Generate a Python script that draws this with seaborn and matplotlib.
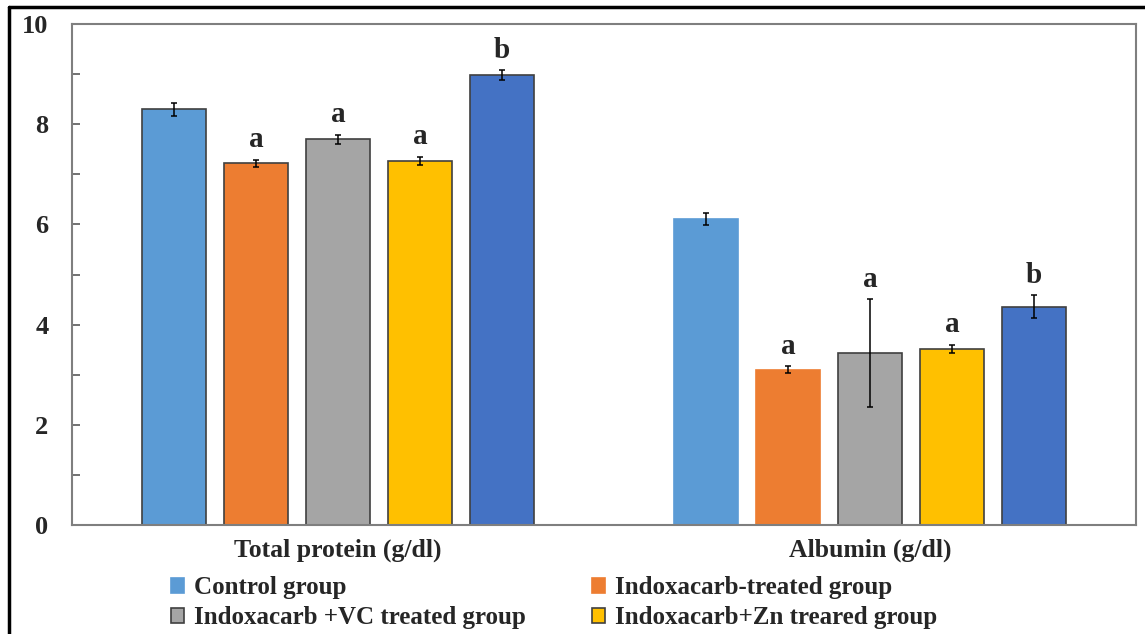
import matplotlib
matplotlib.use('Agg')
import matplotlib.pyplot as plt
from matplotlib.patches import Patch
from matplotlib.lines import Line2D
from matplotlib.ticker import MultipleLocator
import seaborn as sns
import pandas as pd

# data
parameters = ['Total protein (g/dl)', 'Albumin (g/dl)']
groups = ['Control group', 'Indoxacarb-treated group', 'Indoxacarb +VC treated group',
          'Indoxacarb+Zn treared group', 'Group 5']
means = {
    'Total protein (g/dl)': [8.30, 7.22, 7.70, 7.27, 8.98],
    'Albumin (g/dl)':       [6.11, 3.10, 3.43, 3.52, 4.36],
}
errors = {
    'Total protein (g/dl)': [0.13, 0.07, 0.09, 0.08, 0.10],
    'Albumin (g/dl)':       [0.12, 0.07, 1.08, 0.08, 0.23],
}
letters = {
    'Total protein (g/dl)': ['', 'a', 'a', 'a', 'b'],
    'Albumin (g/dl)':       ['', 'a', 'a', 'a', 'b'],
}
colors = ['#5B9BD5', '#ED7D31', '#A5A5A5', '#FFC000', '#4472C4']
legend_groups = groups[:4]

sns.set_style('white')
plt.rcParams['font.family'] = ['Liberation Serif', 'DejaVu Serif']
plt.rcParams['font.weight'] = 'bold'

rows = []
for p in parameters:
    for g, m, e, l in zip(groups, means[p], errors[p], letters[p]):
        rows.append({'param': p, 'group': g, 'mean': m, 'err': e, 'letter': l})
df = pd.DataFrame(rows)

fig = plt.figure(figsize=(11.45, 6.34), dpi=100)
ax = fig.add_axes([0.0629, 0.1719, 0.9292, 0.7902])

sns.barplot(data=df, x='param', y='mean', hue='group', order=parameters,
            hue_order=groups, palette=colors, errorbar=None, width=0.77,
            gap=0.22, edgecolor='#404040', linewidth=1.2, legend=False,
            saturation=1, ax=ax)

# error bars and significance letters, using the bar geometry from seaborn
bar_containers = list(ax.containers)
for gi, cont in enumerate(bar_containers):
    g = groups[gi]
    for pi, bar in enumerate(cont):
        p = parameters[pi]
        row = df[(df['param'] == p) & (df['group'] == g)].iloc[0]
        xc = bar.get_x() + bar.get_width() / 2
        ax.errorbar(xc, row['mean'], yerr=row['err'], fmt='none', ecolor='black',
                    elinewidth=1.1, capsize=2.5, capthick=1.1)
        if row['letter']:
            ax.text(xc, row['mean'] + row['err'] + 0.25, row['letter'],
                    ha='center', va='baseline', fontsize=21, fontweight='bold')
        # albumin control / indoxacarb bars have no outline in the original
        if p == 'Albumin (g/dl)' and gi < 2:
            bar.set_edgecolor(bar.get_facecolor())

ax.set_ylim(0, 10)
ax.set_xlim(-0.5, 1.5)
ax.yaxis.set_major_locator(MultipleLocator(2))
ax.yaxis.set_minor_locator(MultipleLocator(1))
ax.tick_params(axis='y', which='both', direction='in', length=6, width=1.2,
               color='#595959', left=True, pad=17, labelsize=19)
ax.tick_params(axis='x', length=0, pad=10, labelsize=18.5)
ax.set_xlabel('')
ax.set_ylabel('')
for s in ax.spines.values():
    s.set_color('#7F7F7F')
    s.set_linewidth(1.5)
for lab in ax.get_xticklabels() + ax.get_yticklabels():
    lab.set_fontweight('bold')

handles = []
for g, c in zip(legend_groups, colors[:4]):
    ec = c if g in groups[:2] else '#404040'
    handles.append(Patch(facecolor=c, edgecolor=ec, linewidth=1.2, label=g))
order = [0, 2, 1, 3]
fig.legend([handles[i] for i in order], [legend_groups[i] for i in order],
           ncol=2, loc='upper left', bbox_to_anchor=(0.138, 0.111), frameon=False,
           prop={'size': 18, 'weight': 'bold'}, handlelength=0.52, handleheight=0.52,
           handletextpad=0.4, columnspacing=2.68, labelspacing=0.28, borderpad=0)

# outer frame (top and left edges visible in the original)
fig.add_artist(Line2D([0.008, 1.0], [0.989, 0.989], color='black', lw=2.5,
                      transform=fig.transFigure))
fig.add_artist(Line2D([0.008, 0.008], [0.0, 0.989], color='black', lw=2.5,
                      transform=fig.transFigure))

fig.savefig('out.png', dpi=100)
